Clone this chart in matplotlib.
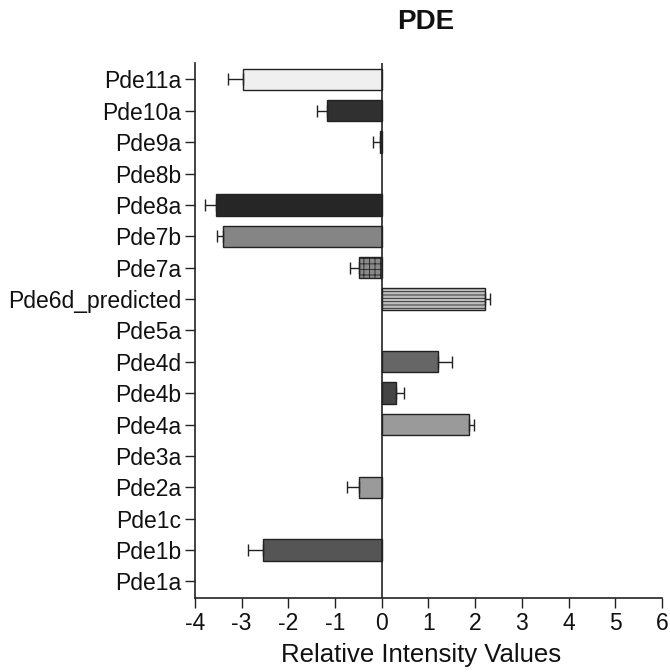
import matplotlib
matplotlib.use("Agg")
import matplotlib.pyplot as plt
import numpy as np

plt.rcParams['font.family'] = ['Liberation Sans', 'DejaVu Sans']
plt.rcParams['hatch.linewidth'] = 0.6

genes = ["Pde1a", "Pde1b", "Pde1c", "Pde2a", "Pde3a", "Pde4a", "Pde4b", "Pde4d",
         "Pde5a", "Pde6d_predicted", "Pde7a", "Pde7b", "Pde8a", "Pde8b", "Pde9a",
         "Pde10a", "Pde11a"]
values = [0.0, -2.54, 0.0, -0.48, 0.0, 1.87, 0.30, 1.21,
          0.0, 2.21, -0.48, -3.40, -3.54, 0.0, -0.04,
          -1.17, -2.98]
errors = [0.0, 0.32, 0.0, 0.27, 0.0, 0.10, 0.18, 0.29,
          0.0, 0.11, 0.19, 0.13, 0.25, 0.0, 0.14,
          0.22, 0.32]
colors = ["#ffffff", "#555555", "#ffffff", "#9a9a9a", "#ffffff", "#9a9a9a", "#444444", "#666666",
          "#ffffff", "#bdbdbd", "#8a8a8a", "#858585", "#262626", "#ffffff", "#333333",
          "#303030", "#efefef"]
hatches = [None, None, None, None, None, None, None, None,
           None, "-----", "+++", None, None, None, None,
           None, None]

fig = plt.figure(figsize=(6.70, 6.72), dpi=100)
ax = fig.add_axes([0.291, 0.1106, 0.697, 0.7955])

y = np.arange(len(genes))
for i in range(len(genes)):
    if values[i] == 0:
        continue
    ax.barh(y[i], values[i], height=0.68, color=colors[i], edgecolor="#222222",
            linewidth=1.0, hatch=hatches[i], zorder=2)
    if values[i] > 0:
        xerr = [[0], [errors[i]]]
    else:
        xerr = [[errors[i]], [0]]
    ax.errorbar(values[i], y[i], xerr=xerr, fmt="none", ecolor="#222222",
                elinewidth=1.0, capsize=4, capthick=1.0, zorder=3)

ax.axvline(0, color="#222222", linewidth=1.2, zorder=4)

ax.set_xlim(-4, 6)
ax.set_ylim(-0.52, len(genes) - 1 + 0.52)
ax.set_xticks(range(-4, 7))
ax.set_xticklabels([str(v) for v in range(-4, 7)], fontsize=16.5)
ax.set_yticks(y)
ax.set_yticklabels(genes, fontsize=16.5)
ax.tick_params(axis="both", direction="out", length=7, width=1.0, color="#222222",
               labelcolor="#111111", pad=3)
for s in ["top", "right"]:
    ax.spines[s].set_visible(False)
for s in ["left", "bottom"]:
    ax.spines[s].set_color("#222222")
    ax.spines[s].set_linewidth(1.2)

ax.set_xlabel("Relative Intensity Values", fontsize=18.5, color="#111111")
ax.xaxis.set_label_coords(0.485, -0.085)
fig.text(0.636, 0.967, "PDE", fontsize=20, fontweight="bold", ha="center", va="center",
         color="#111111")

fig.savefig("out.png", dpi=100)
